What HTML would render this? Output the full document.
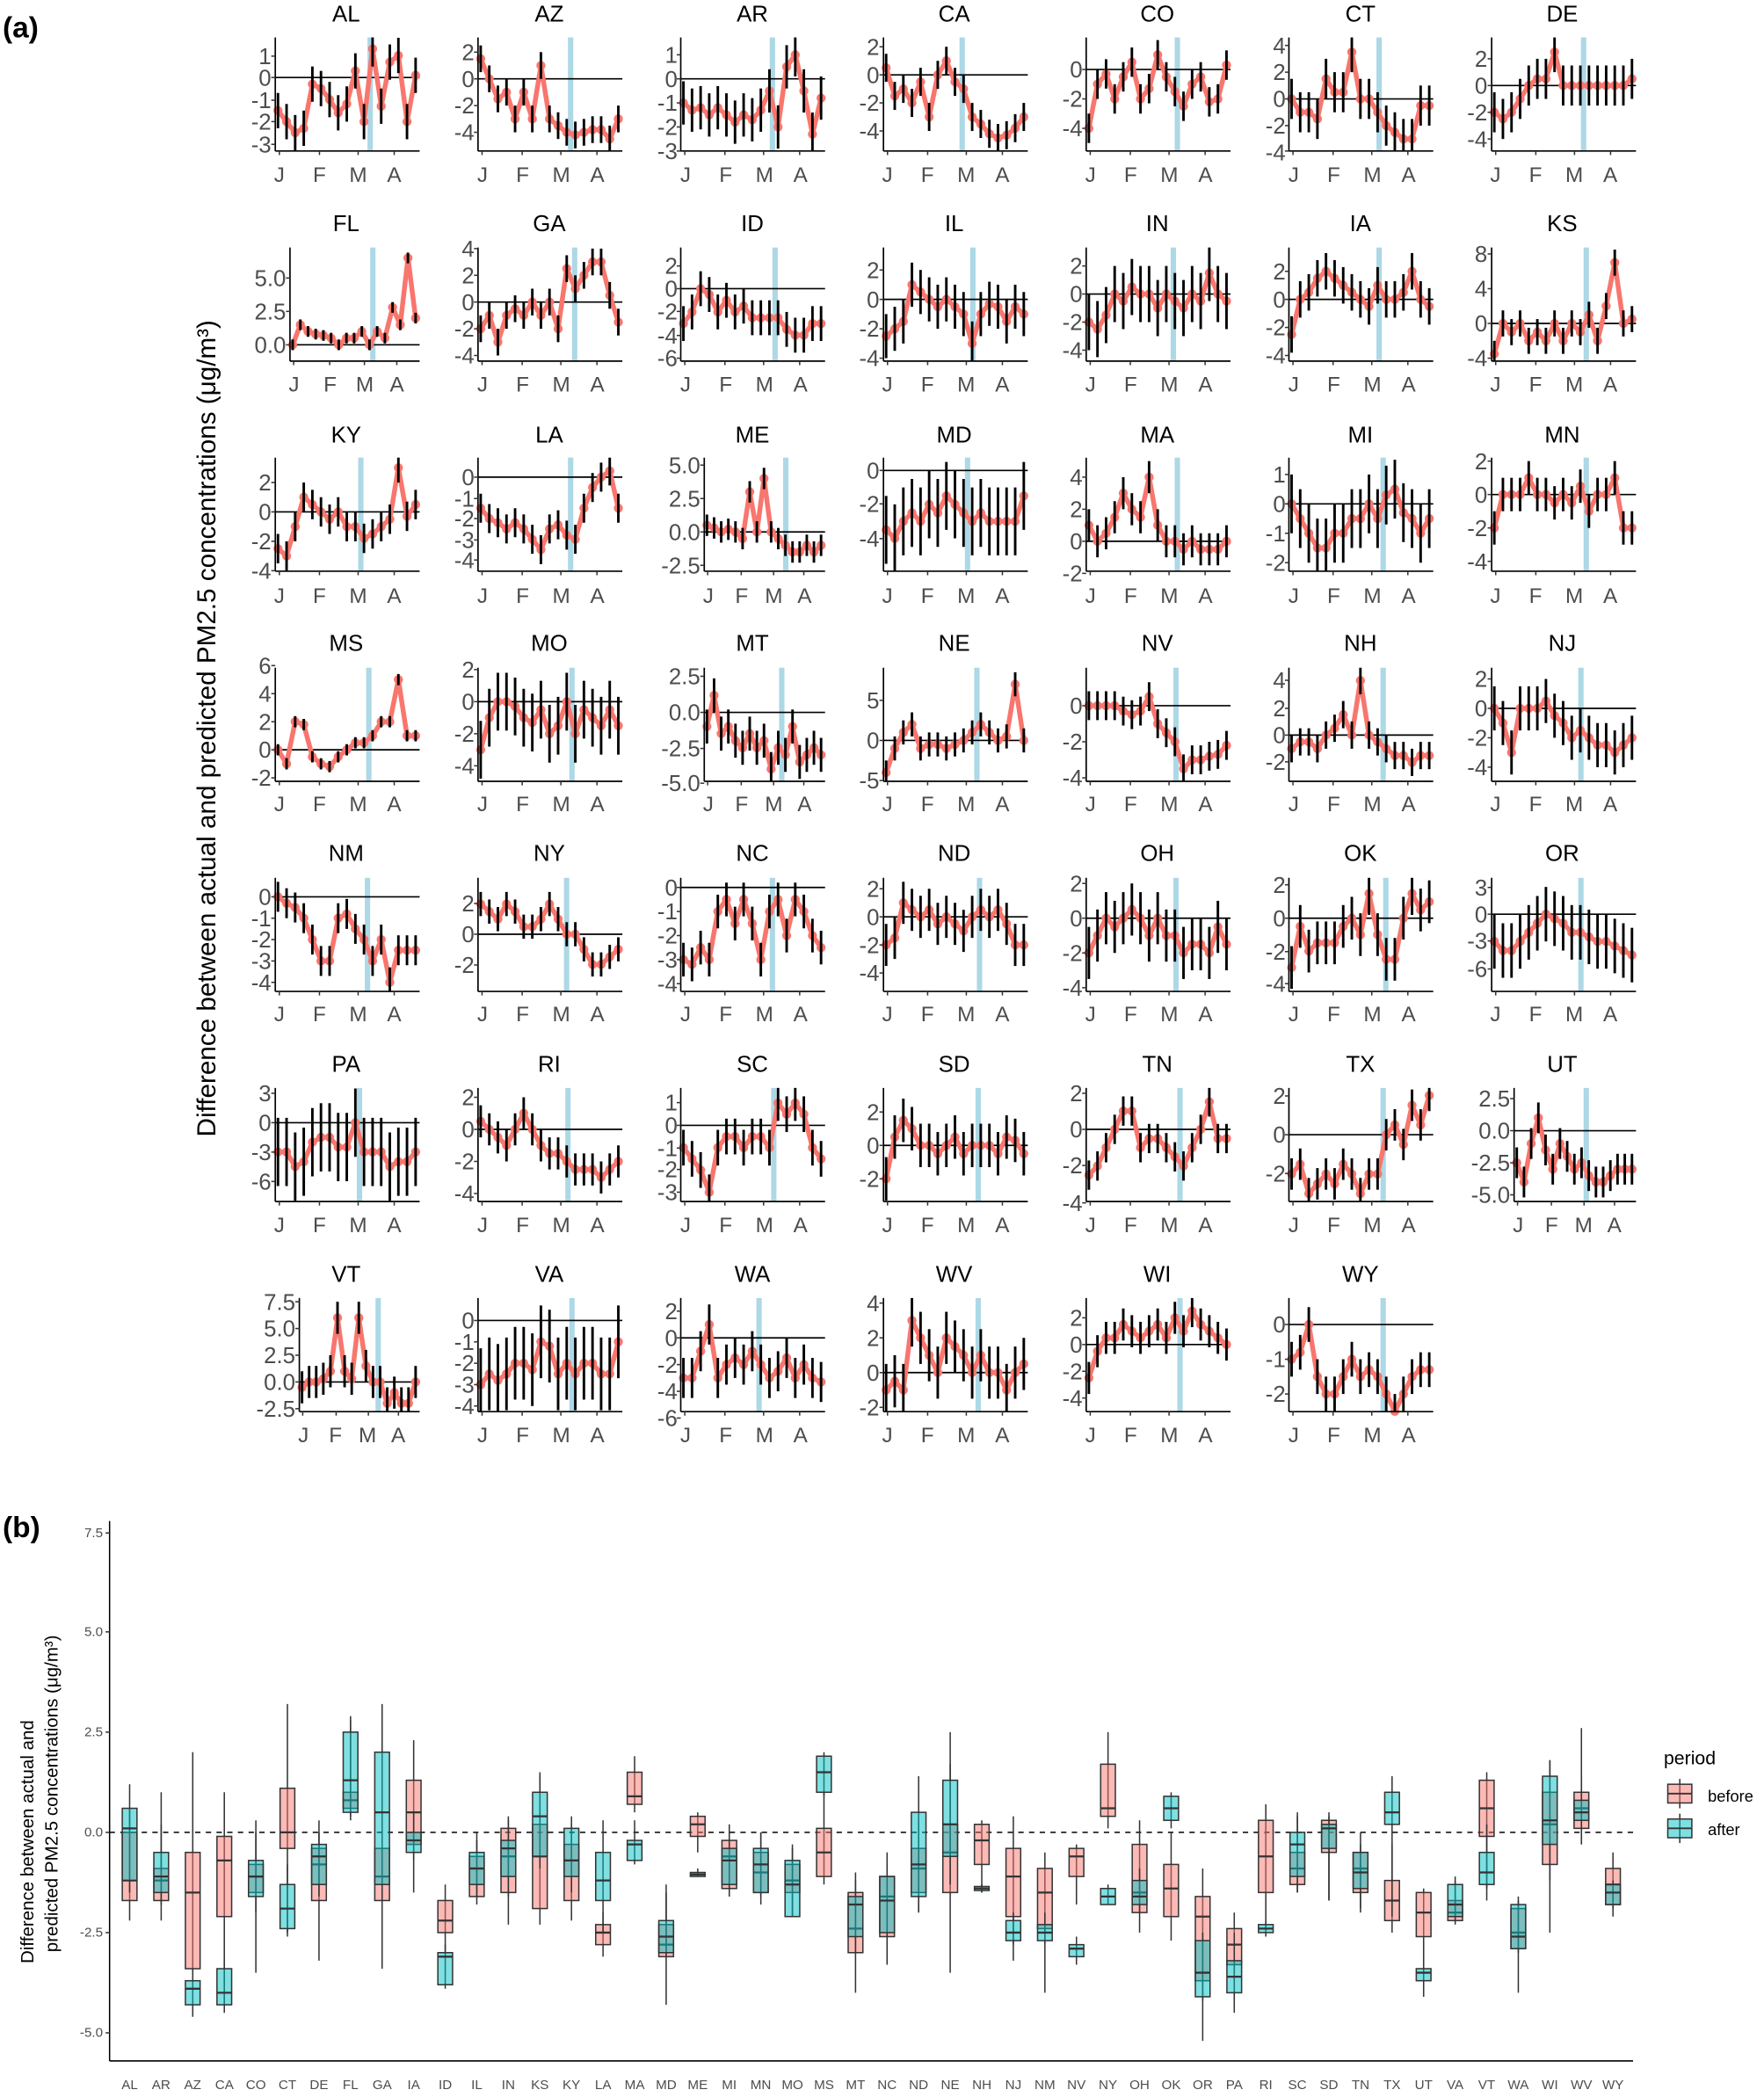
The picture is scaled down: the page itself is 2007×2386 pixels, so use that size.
<!DOCTYPE html>
<html><head><meta charset="utf-8"><style>
html,body{margin:0;padding:0;background:#fff}
svg{display:block}
text{font-family:"Liberation Sans",Arial,sans-serif}
.t{font-size:17px;fill:#000;text-anchor:middle}
.k{font-size:17px;fill:#4d4d4d;text-anchor:end}
.m{font-size:16px;fill:#4d4d4d;text-anchor:middle}
.bk{font-size:10px;fill:#4d4d4d;text-anchor:end}
.bx{font-size:10px;fill:#4d4d4d;text-anchor:middle}
</style></head><body>
<svg id="s" width="2007" height="2386" viewBox="0 0 1320 1569" preserveAspectRatio="none" xmlns="http://www.w3.org/2000/svg">
<rect width="1320" height="1569" fill="#fff"/>
<g id="geo"></g>
<text x="2" y="28" style="font-size:22px;font-weight:bold">(a)</text>
<text x="2" y="1150" style="font-size:22px;font-weight:bold">(b)</text>
<text transform="translate(161,545) rotate(-90)" style="font-size:19.5px;text-anchor:middle">Difference between actual and predicted PM2.5 concentrations (μg/m³)</text>
<text transform="translate(25,1378) rotate(-90)" style="font-size:13.5px;text-anchor:middle">Difference between actual and</text>
<text transform="translate(43,1342) rotate(-90)" style="font-size:13.5px;text-anchor:middle">predicted PM2.5 concentrations (μg/m³)</text>

<!-- Row 0 -->
<g transform="translate(259,0)"><text class="t" y="16">AL</text><text class="k" x="-56" y="48">1</text><text class="k" x="-56" y="64">0</text><text class="k" x="-56" y="81">-1</text><text class="k" x="-56" y="97">-2</text><text class="k" x="-56" y="114">-3</text><text class="m" y="136"><tspan x="-50">J</tspan><tspan x="-20">F</tspan><tspan x="9">M</tspan><tspan x="36">A</tspan></text></g>
<g transform="translate(411,0)"><text class="t" y="16">AZ</text><text class="k" x="-56" y="45">2</text><text class="k" x="-56" y="65">0</text><text class="k" x="-56" y="85">-2</text><text class="k" x="-56" y="105">-4</text><text class="m" y="136"><tspan x="-50">J</tspan><tspan x="-20">F</tspan><tspan x="9">M</tspan><tspan x="36">A</tspan></text></g>
<g transform="translate(563,0)"><text class="t" y="16">AR</text><text class="k" x="-56" y="47">1</text><text class="k" x="-56" y="65">0</text><text class="k" x="-56" y="83">-1</text><text class="k" x="-56" y="101">-2</text><text class="k" x="-56" y="119">-3</text><text class="m" y="136"><tspan x="-50">J</tspan><tspan x="-20">F</tspan><tspan x="9">M</tspan><tspan x="36">A</tspan></text></g>
<g transform="translate(714,0)"><text class="t" y="16">CA</text><text class="k" x="-56" y="41">2</text><text class="k" x="-56" y="62">0</text><text class="k" x="-56" y="83">-2</text><text class="k" x="-56" y="104">-4</text><text class="m" y="136"><tspan x="-50">J</tspan><tspan x="-20">F</tspan><tspan x="9">M</tspan><tspan x="36">A</tspan></text></g>
<g transform="translate(866,0)"><text class="t" y="16">CO</text><text class="k" x="-56" y="58">0</text><text class="k" x="-56" y="80">-2</text><text class="k" x="-56" y="102">-4</text><text class="m" y="136"><tspan x="-50">J</tspan><tspan x="-20">F</tspan><tspan x="9">M</tspan><tspan x="36">A</tspan></text></g>
<g transform="translate(1018,0)"><text class="t" y="16">CT</text><text class="k" x="-56" y="40">4</text><text class="k" x="-56" y="60">2</text><text class="k" x="-56" y="80">0</text><text class="k" x="-56" y="100">-2</text><text class="k" x="-56" y="120">-4</text><text class="m" y="136"><tspan x="-50">J</tspan><tspan x="-20">F</tspan><tspan x="9">M</tspan><tspan x="36">A</tspan></text></g>
<g transform="translate(1169,0)"><text class="t" y="16">DE</text><text class="k" x="-56" y="50">2</text><text class="k" x="-56" y="70">0</text><text class="k" x="-56" y="90">-2</text><text class="k" x="-56" y="110">-4</text><text class="m" y="136"><tspan x="-50">J</tspan><tspan x="-20">F</tspan><tspan x="9">M</tspan><tspan x="36">A</tspan></text></g>
<!-- Row 1 -->
<g transform="translate(259,0)"><text class="t" y="173">FL</text><text class="k" x="-45" y="214">5.0</text><text class="k" x="-45" y="239">2.5</text><text class="k" x="-45" y="264">0.0</text><text class="m" y="293"><tspan x="-39">J</tspan><tspan x="-12">F</tspan><tspan x="14">M</tspan><tspan x="38">A</tspan></text></g>
<g transform="translate(411,0)"><text class="t" y="173">GA</text><text class="k" x="-56" y="192">4</text><text class="k" x="-56" y="212">2</text><text class="k" x="-56" y="232">0</text><text class="k" x="-56" y="252">-2</text><text class="k" x="-56" y="272">-4</text><text class="m" y="293"><tspan x="-50">J</tspan><tspan x="-20">F</tspan><tspan x="9">M</tspan><tspan x="36">A</tspan></text></g>
<g transform="translate(563,0)"><text class="t" y="173">ID</text><text class="k" x="-56" y="205">2</text><text class="k" x="-56" y="222">0</text><text class="k" x="-56" y="239">-2</text><text class="k" x="-56" y="257">-4</text><text class="k" x="-56" y="274">-6</text><text class="m" y="293"><tspan x="-50">J</tspan><tspan x="-20">F</tspan><tspan x="9">M</tspan><tspan x="36">A</tspan></text></g>
<g transform="translate(714,0)"><text class="t" y="173">IL</text><text class="k" x="-56" y="208">2</text><text class="k" x="-56" y="230">0</text><text class="k" x="-56" y="252">-2</text><text class="k" x="-56" y="274">-4</text><text class="m" y="293"><tspan x="-50">J</tspan><tspan x="-20">F</tspan><tspan x="9">M</tspan><tspan x="36">A</tspan></text></g>
<g transform="translate(866,0)"><text class="t" y="173">IN</text><text class="k" x="-56" y="205">2</text><text class="k" x="-56" y="226">0</text><text class="k" x="-56" y="247">-2</text><text class="k" x="-56" y="268">-4</text><text class="m" y="293"><tspan x="-50">J</tspan><tspan x="-20">F</tspan><tspan x="9">M</tspan><tspan x="36">A</tspan></text></g>
<g transform="translate(1018,0)"><text class="t" y="173">IA</text><text class="k" x="-56" y="209">2</text><text class="k" x="-56" y="230">0</text><text class="k" x="-56" y="251">-2</text><text class="k" x="-56" y="272">-4</text><text class="m" y="293"><tspan x="-50">J</tspan><tspan x="-20">F</tspan><tspan x="9">M</tspan><tspan x="36">A</tspan></text></g>
<g transform="translate(1169,0)"><text class="t" y="173">KS</text><text class="k" x="-56" y="196">8</text><text class="k" x="-56" y="222">4</text><text class="k" x="-56" y="248">0</text><text class="k" x="-56" y="274">-4</text><text class="m" y="293"><tspan x="-50">J</tspan><tspan x="-20">F</tspan><tspan x="9">M</tspan><tspan x="36">A</tspan></text></g>
<!-- Row 2 -->
<g transform="translate(259,0)"><text class="t" y="331">KY</text><text class="k" x="-56" y="367">2</text><text class="k" x="-56" y="389">0</text><text class="k" x="-56" y="411">-2</text><text class="k" x="-56" y="433">-4</text><text class="m" y="451"><tspan x="-50">J</tspan><tspan x="-20">F</tspan><tspan x="9">M</tspan><tspan x="36">A</tspan></text></g>
<g transform="translate(411,0)"><text class="t" y="331">LA</text><text class="k" x="-56" y="363">0</text><text class="k" x="-56" y="379">-1</text><text class="k" x="-56" y="394">-2</text><text class="k" x="-56" y="410">-3</text><text class="k" x="-56" y="425">-4</text><text class="m" y="451"><tspan x="-50">J</tspan><tspan x="-20">F</tspan><tspan x="9">M</tspan><tspan x="36">A</tspan></text></g>
<g transform="translate(563,0)"><text class="t" y="331">ME</text><text class="k" x="-39" y="354">5.0</text><text class="k" x="-39" y="379">2.5</text><text class="k" x="-39" y="404">0.0</text><text class="k" x="-39" y="429">-2.5</text><text class="m" y="451"><tspan x="-33">J</tspan><tspan x="-8">F</tspan><tspan x="16">M</tspan><tspan x="39">A</tspan></text></g>
<g transform="translate(714,0)"><text class="t" y="331">MD</text><text class="k" x="-56" y="358">0</text><text class="k" x="-56" y="383">-2</text><text class="k" x="-56" y="409">-4</text><text class="m" y="451"><tspan x="-50">J</tspan><tspan x="-20">F</tspan><tspan x="9">M</tspan><tspan x="36">A</tspan></text></g>
<g transform="translate(866,0)"><text class="t" y="331">MA</text><text class="k" x="-56" y="363">4</text><text class="k" x="-56" y="387">2</text><text class="k" x="-56" y="411">0</text><text class="k" x="-56" y="435">-2</text><text class="m" y="451"><tspan x="-50">J</tspan><tspan x="-20">F</tspan><tspan x="9">M</tspan><tspan x="36">A</tspan></text></g>
<g transform="translate(1018,0)"><text class="t" y="331">MI</text><text class="k" x="-56" y="361">1</text><text class="k" x="-56" y="383">0</text><text class="k" x="-56" y="405">-1</text><text class="k" x="-56" y="427">-2</text><text class="m" y="451"><tspan x="-50">J</tspan><tspan x="-20">F</tspan><tspan x="9">M</tspan><tspan x="36">A</tspan></text></g>
<g transform="translate(1169,0)"><text class="t" y="331">MN</text><text class="k" x="-56" y="351">2</text><text class="k" x="-56" y="376">0</text><text class="k" x="-56" y="401">-2</text><text class="k" x="-56" y="426">-4</text><text class="m" y="451"><tspan x="-50">J</tspan><tspan x="-20">F</tspan><tspan x="9">M</tspan><tspan x="36">A</tspan></text></g>
<!-- Row 3 -->
<g transform="translate(259,0)"><text class="t" y="487">MS</text><text class="k" x="-56" y="504">6</text><text class="k" x="-56" y="525">4</text><text class="k" x="-56" y="546">2</text><text class="k" x="-56" y="567">0</text><text class="k" x="-56" y="588">-2</text><text class="m" y="607"><tspan x="-50">J</tspan><tspan x="-20">F</tspan><tspan x="9">M</tspan><tspan x="36">A</tspan></text></g>
<g transform="translate(411,0)"><text class="t" y="487">MO</text><text class="k" x="-56" y="507">2</text><text class="k" x="-56" y="531">0</text><text class="k" x="-56" y="555">-2</text><text class="k" x="-56" y="579">-4</text><text class="m" y="607"><tspan x="-50">J</tspan><tspan x="-20">F</tspan><tspan x="9">M</tspan><tspan x="36">A</tspan></text></g>
<g transform="translate(563,0)"><text class="t" y="487">MT</text><text class="k" x="-39" y="512">2.5</text><text class="k" x="-39" y="539">0.0</text><text class="k" x="-39" y="566">-2.5</text><text class="k" x="-39" y="592">-5.0</text><text class="m" y="607"><tspan x="-33">J</tspan><tspan x="-8">F</tspan><tspan x="16">M</tspan><tspan x="39">A</tspan></text></g>
<g transform="translate(714,0)"><text class="t" y="487">NE</text><text class="k" x="-56" y="530">5</text><text class="k" x="-56" y="560">0</text><text class="k" x="-56" y="590">-5</text><text class="m" y="607"><tspan x="-50">J</tspan><tspan x="-20">F</tspan><tspan x="9">M</tspan><tspan x="36">A</tspan></text></g>
<g transform="translate(866,0)"><text class="t" y="487">NV</text><text class="k" x="-56" y="534">0</text><text class="k" x="-56" y="561">-2</text><text class="k" x="-56" y="588">-4</text><text class="m" y="607"><tspan x="-50">J</tspan><tspan x="-20">F</tspan><tspan x="9">M</tspan><tspan x="36">A</tspan></text></g>
<g transform="translate(1018,0)"><text class="t" y="487">NH</text><text class="k" x="-56" y="515">4</text><text class="k" x="-56" y="536">2</text><text class="k" x="-56" y="556">0</text><text class="k" x="-56" y="576">-2</text><text class="m" y="607"><tspan x="-50">J</tspan><tspan x="-20">F</tspan><tspan x="9">M</tspan><tspan x="36">A</tspan></text></g>
<g transform="translate(1169,0)"><text class="t" y="487">NJ</text><text class="k" x="-56" y="514">2</text><text class="k" x="-56" y="536">0</text><text class="k" x="-56" y="558">-2</text><text class="k" x="-56" y="580">-4</text><text class="m" y="607"><tspan x="-50">J</tspan><tspan x="-20">F</tspan><tspan x="9">M</tspan><tspan x="36">A</tspan></text></g>
<!-- Row 4 -->
<g transform="translate(259,0)"><text class="t" y="644">NM</text><text class="k" x="-56" y="677">0</text><text class="k" x="-56" y="693">-1</text><text class="k" x="-56" y="709">-2</text><text class="k" x="-56" y="725">-3</text><text class="k" x="-56" y="741">-4</text><text class="m" y="764"><tspan x="-50">J</tspan><tspan x="-20">F</tspan><tspan x="9">M</tspan><tspan x="36">A</tspan></text></g>
<g transform="translate(411,0)"><text class="t" y="644">NY</text><text class="k" x="-56" y="682">2</text><text class="k" x="-56" y="705">0</text><text class="k" x="-56" y="728">-2</text><text class="m" y="764"><tspan x="-50">J</tspan><tspan x="-20">F</tspan><tspan x="9">M</tspan><tspan x="36">A</tspan></text></g>
<g transform="translate(563,0)"><text class="t" y="644">NC</text><text class="k" x="-56" y="670">0</text><text class="k" x="-56" y="688">-1</text><text class="k" x="-56" y="706">-2</text><text class="k" x="-56" y="724">-3</text><text class="k" x="-56" y="742">-4</text><text class="m" y="764"><tspan x="-50">J</tspan><tspan x="-20">F</tspan><tspan x="9">M</tspan><tspan x="36">A</tspan></text></g>
<g transform="translate(714,0)"><text class="t" y="644">ND</text><text class="k" x="-56" y="671">2</text><text class="k" x="-56" y="692">0</text><text class="k" x="-56" y="713">-2</text><text class="k" x="-56" y="734">-4</text><text class="m" y="764"><tspan x="-50">J</tspan><tspan x="-20">F</tspan><tspan x="9">M</tspan><tspan x="36">A</tspan></text></g>
<g transform="translate(866,0)"><text class="t" y="644">OH</text><text class="k" x="-56" y="667">2</text><text class="k" x="-56" y="693">0</text><text class="k" x="-56" y="719">-2</text><text class="k" x="-56" y="745">-4</text><text class="m" y="764"><tspan x="-50">J</tspan><tspan x="-20">F</tspan><tspan x="9">M</tspan><tspan x="36">A</tspan></text></g>
<g transform="translate(1018,0)"><text class="t" y="644">OK</text><text class="k" x="-56" y="668">2</text><text class="k" x="-56" y="693">0</text><text class="k" x="-56" y="718">-2</text><text class="k" x="-56" y="742">-4</text><text class="m" y="764"><tspan x="-50">J</tspan><tspan x="-20">F</tspan><tspan x="9">M</tspan><tspan x="36">A</tspan></text></g>
<g transform="translate(1169,0)"><text class="t" y="644">OR</text><text class="k" x="-56" y="670">3</text><text class="k" x="-56" y="690">0</text><text class="k" x="-56" y="710">-3</text><text class="k" x="-56" y="731">-6</text><text class="m" y="764"><tspan x="-50">J</tspan><tspan x="-20">F</tspan><tspan x="9">M</tspan><tspan x="36">A</tspan></text></g>
<!-- Row 5 -->
<g transform="translate(259,0)"><text class="t" y="802">PA</text><text class="k" x="-56" y="824">3</text><text class="k" x="-56" y="846">0</text><text class="k" x="-56" y="868">-3</text><text class="k" x="-56" y="890">-6</text><text class="m" y="922"><tspan x="-50">J</tspan><tspan x="-20">F</tspan><tspan x="9">M</tspan><tspan x="36">A</tspan></text></g>
<g transform="translate(411,0)"><text class="t" y="802">RI</text><text class="k" x="-56" y="827">2</text><text class="k" x="-56" y="851">0</text><text class="k" x="-56" y="875">-2</text><text class="k" x="-56" y="899">-4</text><text class="m" y="922"><tspan x="-50">J</tspan><tspan x="-20">F</tspan><tspan x="9">M</tspan><tspan x="36">A</tspan></text></g>
<g transform="translate(563,0)"><text class="t" y="802">SC</text><text class="k" x="-56" y="831">1</text><text class="k" x="-56" y="848">0</text><text class="k" x="-56" y="865">-1</text><text class="k" x="-56" y="881">-2</text><text class="k" x="-56" y="898">-3</text><text class="m" y="922"><tspan x="-50">J</tspan><tspan x="-20">F</tspan><tspan x="9">M</tspan><tspan x="36">A</tspan></text></g>
<g transform="translate(714,0)"><text class="t" y="802">SD</text><text class="k" x="-56" y="838">2</text><text class="k" x="-56" y="863">0</text><text class="k" x="-56" y="888">-2</text><text class="m" y="922"><tspan x="-50">J</tspan><tspan x="-20">F</tspan><tspan x="9">M</tspan><tspan x="36">A</tspan></text></g>
<g transform="translate(866,0)"><text class="t" y="802">TN</text><text class="k" x="-56" y="824">2</text><text class="k" x="-56" y="851">0</text><text class="k" x="-56" y="878">-2</text><text class="k" x="-56" y="906">-4</text><text class="m" y="922"><tspan x="-50">J</tspan><tspan x="-20">F</tspan><tspan x="9">M</tspan><tspan x="36">A</tspan></text></g>
<g transform="translate(1018,0)"><text class="t" y="802">TX</text><text class="k" x="-56" y="826">2</text><text class="k" x="-56" y="855">0</text><text class="k" x="-56" y="884">-2</text><text class="m" y="922"><tspan x="-50">J</tspan><tspan x="-20">F</tspan><tspan x="9">M</tspan><tspan x="36">A</tspan></text></g>
<g transform="translate(1169,0)"><text class="t" y="802">UT</text><text class="k" x="-39" y="828">2.5</text><text class="k" x="-39" y="852">0.0</text><text class="k" x="-39" y="876">-2.5</text><text class="k" x="-39" y="900">-5.0</text><text class="m" y="922"><tspan x="-33">J</tspan><tspan x="-8">F</tspan><tspan x="16">M</tspan><tspan x="39">A</tspan></text></g>
<!-- Row 6 -->
<g transform="translate(259,0)"><text class="t" y="959">VT</text><text class="k" x="-38" y="980">7.5</text><text class="k" x="-38" y="1000">5.0</text><text class="k" x="-38" y="1020">2.5</text><text class="k" x="-38" y="1040">0.0</text><text class="k" x="-38" y="1060">-2.5</text><text class="m" y="1079"><tspan x="-32">J</tspan><tspan x="-8">F</tspan><tspan x="16">M</tspan><tspan x="39">A</tspan></text></g>
<g transform="translate(411,0)"><text class="t" y="959">VA</text><text class="k" x="-56" y="994">0</text><text class="k" x="-56" y="1010">-1</text><text class="k" x="-56" y="1026">-2</text><text class="k" x="-56" y="1042">-3</text><text class="k" x="-56" y="1058">-4</text><text class="m" y="1079"><tspan x="-50">J</tspan><tspan x="-20">F</tspan><tspan x="9">M</tspan><tspan x="36">A</tspan></text></g>
<g transform="translate(563,0)"><text class="t" y="959">WA</text><text class="k" x="-56" y="987">2</text><text class="k" x="-56" y="1007">0</text><text class="k" x="-56" y="1027">-2</text><text class="k" x="-56" y="1047">-4</text><text class="k" x="-56" y="1067">-6</text><text class="m" y="1079"><tspan x="-50">J</tspan><tspan x="-20">F</tspan><tspan x="9">M</tspan><tspan x="36">A</tspan></text></g>
<g transform="translate(714,0)"><text class="t" y="959">WV</text><text class="k" x="-56" y="981">4</text><text class="k" x="-56" y="1007">2</text><text class="k" x="-56" y="1033">0</text><text class="k" x="-56" y="1059">-2</text><text class="m" y="1079"><tspan x="-50">J</tspan><tspan x="-20">F</tspan><tspan x="9">M</tspan><tspan x="36">A</tspan></text></g>
<g transform="translate(866,0)"><text class="t" y="959">WI</text><text class="k" x="-56" y="992">2</text><text class="k" x="-56" y="1012">0</text><text class="k" x="-56" y="1032">-2</text><text class="k" x="-56" y="1052">-4</text><text class="m" y="1079"><tspan x="-50">J</tspan><tspan x="-20">F</tspan><tspan x="9">M</tspan><tspan x="36">A</tspan></text></g>
<g transform="translate(1018,0)"><text class="t" y="959">WY</text><text class="k" x="-56" y="997">0</text><text class="k" x="-56" y="1023">-1</text><text class="k" x="-56" y="1049">-2</text><text class="m" y="1079"><tspan x="-50">J</tspan><tspan x="-20">F</tspan><tspan x="9">M</tspan><tspan x="36">A</tspan></text></g>

<!-- Panel b text -->
<text class="bk" x="77" y="1150">7.5</text><text class="bk" x="77" y="1224">5.0</text><text class="bk" x="77" y="1299">2.5</text><text class="bk" x="77" y="1374">0.0</text><text class="bk" x="77" y="1449">-2.5</text><text class="bk" x="77" y="1524">-5.0</text>
<g><text class="bx" y="1563" x="97.0">AL</text><text class="bx" y="1563" x="120.6">AR</text><text class="bx" y="1563" x="144.2">AZ</text><text class="bx" y="1563" x="167.9">CA</text><text class="bx" y="1563" x="191.5">CO</text><text class="bx" y="1563" x="215.1">CT</text><text class="bx" y="1563" x="238.7">DE</text><text class="bx" y="1563" x="262.3">FL</text><text class="bx" y="1563" x="286.0">GA</text><text class="bx" y="1563" x="309.6">IA</text><text class="bx" y="1563" x="333.2">ID</text><text class="bx" y="1563" x="356.8">IL</text><text class="bx" y="1563" x="380.4">IN</text><text class="bx" y="1563" x="404.0">KS</text><text class="bx" y="1563" x="427.6">KY</text><text class="bx" y="1563" x="451.3">LA</text><text class="bx" y="1563" x="474.9">MA</text><text class="bx" y="1563" x="498.5">MD</text><text class="bx" y="1563" x="522.1">ME</text><text class="bx" y="1563" x="545.7">MI</text><text class="bx" y="1563" x="569.3">MN</text><text class="bx" y="1563" x="593.0">MO</text><text class="bx" y="1563" x="616.6">MS</text><text class="bx" y="1563" x="640.2">MT</text><text class="bx" y="1563" x="663.8">NC</text><text class="bx" y="1563" x="687.4">ND</text><text class="bx" y="1563" x="711.0">NE</text><text class="bx" y="1563" x="734.7">NH</text><text class="bx" y="1563" x="758.3">NJ</text><text class="bx" y="1563" x="781.9">NM</text><text class="bx" y="1563" x="805.5">NV</text><text class="bx" y="1563" x="829.1">NY</text><text class="bx" y="1563" x="852.7">OH</text><text class="bx" y="1563" x="876.4">OK</text><text class="bx" y="1563" x="900.0">OR</text><text class="bx" y="1563" x="923.6">PA</text><text class="bx" y="1563" x="947.2">RI</text><text class="bx" y="1563" x="970.8">SC</text><text class="bx" y="1563" x="994.4">SD</text><text class="bx" y="1563" x="1018.1">TN</text><text class="bx" y="1563" x="1041.7">TX</text><text class="bx" y="1563" x="1065.3">UT</text><text class="bx" y="1563" x="1088.9">VA</text><text class="bx" y="1563" x="1112.5">VT</text><text class="bx" y="1563" x="1136.1">WA</text><text class="bx" y="1563" x="1159.8">WI</text><text class="bx" y="1563" x="1183.4">WV</text><text class="bx" y="1563" x="1207.0">WY</text></g>
<text x="1245" y="1320" style="font-size:14px">period</text>
<text x="1278" y="1348" style="font-size:12px">before</text>
<text x="1278" y="1373" style="font-size:12px">after</text>
</svg>
<script>
(function(){
var NS="http://www.w3.org/2000/svg",G=document.getElementById("geo");
function el(n,a){var e=document.createElementNS(NS,n);for(var k in a)e.setAttribute(k,a[k]);G.appendChild(e);return e;}
var P=[
[0,0,0,58,16.5,277,0.8,[42,58,75,91,108],[-1.5,-2,-2.5,-2.3,-0.3,-0.5,-1,-1.6,-1.2,0.3,-2,1.3,-1.3,0.7,1,-2,0.1]],
[1,0,0,59,10,427,1,[39,59,79,99],[1.5,0,-1.5,-1,-3,-1,-3,1,-3,-3.5,-4,-4.2,-4,-3.8,-3.8,-4.5,-3]],
[2,0,0,59,18,578,0.9,[41,59,77,95,113],[-1,-1.3,-1.2,-1.5,-1.2,-1.5,-1.8,-1.5,-1.7,-1.3,-0.5,-2,0.5,1,-0.5,-2.3,-0.8]],
[3,0,0,56,10.5,720,1,[35,56,77,98],[0.5,-1.5,-1,-2,-0.5,-3,0,1,-0.5,-1,-3,-3.5,-4.2,-4.5,-4.3,-3.8,-3]],
[4,0,0,52,11,881,1,[52,74,96],[-4,-1,-0.3,-2,-0.5,0.5,-2,-1.3,1,-0.5,-1.5,-2.5,-1,-0.5,-2.2,-2,0.3]],
[5,0,0,74,10,1032,1.5,[34,54,74,94,113],[0,-1,-1,-1.5,1.5,0.5,0.5,3.5,0,0,-1,-2,-2.5,-3,-3,-0.5,-0.5]],
[6,0,0,64,10,1185,1.5,[44,64,84,104],[-2,-2.5,-2,-1,0,0.5,0.5,2.5,0,0,0,0,0,0,0,0,0.5]],
[0,1,217,258,10,279,0.4,[208,233,258],[0,1.5,1,0.8,0.7,0.5,0,0.5,0.5,1,0,1,0.5,2.8,1.5,6.5,2]],
[1,1,0,226,10,430,1,[186,206,226,246,266],[-2,-1,-3,-1,-0.5,-1,0,-1,0,-2,2.5,1,2,3,3,0.5,-1.5]],
[2,1,0,216,8.7,580,1.5,[199,216,233,251,268],[-3,-2,0,-0.5,-2,-1,-2,-1.5,-2.5,-2.5,-2.5,-2.5,-3.5,-4,-4,-3,-3]],
[3,1,0,224,11,728,1.5,[202,224,246,268],[-2.5,-2,-1.5,1,0.5,0,-0.5,0,-0.5,-1,-3,-1,-0.3,-0.5,-1.5,-0.5,-1]],
[4,1,0,220,10.5,878,2,[199,220,241,262],[-2,-2.5,-1.5,0,-0.5,0.5,0,0,-1,0,-0.5,-1,0,-0.5,1.5,0,-0.5]],
[5,1,0,224,10.5,1032,1.3,[203,224,245,266],[-2.5,0,0.5,1.5,2,1.5,1,0.5,0,-0.5,1,0,0,0.5,2,0,-0.5]],
[6,1,0,242,6.5,1187,1.5,[190,216,242,268],[-3.5,0,-1,0,-2,-1,-2,0,-2,0,-1,1,-2,2,7,0,0.5]],
[0,2,0,383,11,270,1,[361,383,405,427],[-2.5,-3,-1,1,0.5,0,-0.5,0,-1,-1,-1.8,-1.5,-1,-0.5,3,-0.3,0.5]],
[1,2,0,357,15.5,427,0.7,[357,373,388,404,419],[-1.5,-2,-2.2,-2.5,-2.2,-2.5,-3,-3.5,-2.5,-2.3,-2.8,-3,-1.5,-0.5,0,0.3,-1.5]],
[2,2,527,398,10,588,0.8,[348,373,398,423],[0.5,0.3,0,0.2,0,-0.5,3,0,4,0,-0.5,-1,-1.5,-1.5,-1,-1.5,-1]],
[3,2,0,352,12.7,724,2,[352,377,403],[-3.5,-4,-3,-2.5,-3,-2,-2.5,-1.5,-2,-2.5,-3,-2.5,-3,-3,-3,-3,-1.5]],
[4,2,0,405,12,881,1,[357,381,405,429],[1,0,0.5,1.5,3,2,1.5,4,1,0,0,-0.5,0,-0.5,-0.5,-0.5,0]],
[5,2,0,377,22,1035,1,[355,377,399,421],[0,-0.5,-1,-1.5,-1.5,-1,-1,-0.5,-0.5,0,-0.5,0.3,0.5,-0.3,-0.5,-1,-0.5]],
[6,2,0,370,12.5,1187,1,[345,370,395,420],[-2,0,0,0,1,0,0,-0.5,0,-0.5,0.5,-1,0,0,1,-2,-2]],
[0,3,0,561,10.5,276,0.4,[498,519,540,561,582],[0,-1,2,1.8,-0.5,-1,-1.2,-0.5,0,0.5,0.5,1,2,2,5,1,1]],
[1,3,0,525,12,428,1.8,[501,525,549,573],[-3,-1,0,0,-0.3,-1,-1.3,-0.5,-2,-1.5,0,-2,-0.5,-1,-1.5,-0.5,-1.5]],
[2,3,527,533,10.6,585,1.2,[506,533,560,586],[-1,1.2,-1.5,-1,-2,-2.5,-1.5,-2.5,-2,-4,-2.5,-3,-1,-3.5,-3,-2.5,-3]],
[3,3,0,554,6,731,1.5,[524,554,584],[-4,-1,1,2,-1,-0.5,-0.5,-1,-0.5,0,1,2,1,0,0.5,7,0]],
[4,3,0,528,13.5,880,0.8,[528,555,582],[0,0,0,0,-0.3,-0.5,-0.3,0.5,-1,-1.5,-2,-3.5,-3,-3,-2.8,-2.7,-2.2]],
[5,3,0,550,10.2,1035,1,[509,530,550,570],[-1,-0.5,-0.5,-1,0,0.5,1.5,0,4,0,-0.5,-1,-1.5,-1.5,-2,-1.5,-1.5]],
[6,3,0,530,11,1183,1.5,[508,530,552,574],[0,-1,-3,0,0,0,0.5,-0.5,-1,-2,-1.5,-2,-2.5,-2.5,-3,-2.5,-2]],
[0,4,0,671,16,275,0.7,[671,687,703,719,735],[0,-0.3,-0.5,-1,-2,-3,-3,-1,-0.8,-1.5,-2,-3,-2,-4,-2.5,-2.5,-2.5]],
[1,4,0,699,11.3,424,0.8,[676,699,722],[2,1.5,1,2,1.5,0.5,0.5,1,2,1,0,0,-1,-2,-2,-1.5,-1]],
[2,4,0,664,18,578,0.7,[664,682,700,718,736],[-3,-3.2,-2.5,-3,-1,-0.5,-1.5,-0.5,-1.5,-3,-1,-0.5,-2,-0.5,-1,-2,-2.5]],
[3,4,0,686,10.5,733,1.5,[665,686,707,728],[-2,-1.5,1,0.5,0,0.5,-0.5,0,-0.5,-1,0,0.5,0,0.5,-0.5,-2,-2]],
[4,4,0,687,13,880,1.5,[661,687,713,739],[-2,-1,0,-0.5,0,0.5,0,-1,0,-1,-1,-2,-1.5,-1.5,-2,-0.5,-1.5]],
[5,4,0,687,12.3,1037,1.3,[662,687,712,736],[-3,-0.5,-2,-1.5,-1.5,-1.5,-0.5,0,-1,1.5,-1,-2.5,-2.5,0,1.5,0.5,1]],
[6,4,0,684,6.8,1183,3,[664,684,704,725],[-3,-4,-4,-3,-2,-1,0,-0.5,-1,-2,-2,-2.5,-3,-3,-3.5,-4,-4.5]],
[0,5,0,840,7.3,269,3.5,[818,840,862,884],[-3,-3,-4.5,-4,-2,-1.5,-1.5,-2.5,-2.5,0,-3,-3,-3,-4.5,-4,-4,-3]],
[1,5,0,845,12,425,1,[821,845,869,893],[0.5,0,-0.5,-1,0,1,0,-1,-1.5,-1.5,-2,-2.5,-2.5,-2.5,-3,-2.5,-2]],
[2,5,0,842,16.7,579,0.8,[825,842,859,875,892],[-1,-1.5,-2,-3,-1,-0.5,-0.5,-1,-0.5,-0.5,-1,1,0.5,1,0.5,-1,-1.5]],
[3,5,0,857,12.5,732,1.3,[832,857,882],[-2,0.5,1.5,1,0,0,-0.5,0,0.5,-0.5,0,0,0,-0.5,0.5,0.3,-0.5]],
[4,5,0,845,13.7,883,0.8,[818,845,872,900],[-2.5,-2,-1,0,1,1,-1,-0.5,-0.5,-1,-1.5,-2,-1,0,1.5,-0.5,-0.5]],
[5,5,0,849,14.7,1035,0.8,[820,849,878],[-2,-1.5,-3,-2.5,-2,-2.5,-1.5,-2,-3,-2,-2,0,0.5,-0.5,1.5,0.5,2]],
[6,5,1133,846,9.6,1187,1.2,[822,846,870,894],[-2.5,-4,-1,1,-1.5,-3,-1,-2,-3,-2.5,-3.5,-4,-4,-3.5,-3,-3,-3]],
[0,6,224,1034,8,283,1.5,[974,994,1014,1034,1054],[-0.5,0,0,0.3,1,6,1,0.3,6,1.5,0,0,-2,-1,-2,-2,0]],
[1,6,0,988,16,428,1.7,[988,1004,1020,1036,1052],[-3,-2.5,-2.8,-2.5,-2,-2,-2.3,-1,-1.2,-2.5,-2,-2.5,-2,-2,-2.5,-2.5,-1]],
[2,6,0,1001,10,568,1.5,[981,1001,1021,1041,1061],[-3,-3,-1,1,-3,-2,-1.5,-2,-1,-2,-3,-2.5,-1.5,-3,-2,-3,-3.3]],
[3,6,0,1027,13,732,1.5,[975,1001,1027,1053],[-1,-0.5,-1,3,2,1,0,2,1.5,1,0,1,0,0,-1,0,0.5]],
[4,6,0,1006,10,883,1.2,[986,1006,1026,1046],[-2.5,-0.5,0.5,0.5,1.5,1,0.5,1,1.5,0.5,2,1,2.5,1.5,1,0.5,0]],
[5,6,0,991,26,1035,0.5,[991,1017,1043],[-1,-0.8,0,-1.5,-2,-2,-1.5,-1,-1.5,-1.3,-1.5,-2,-2.5,-2,-1.5,-1.3,-1.3]]
];
P.forEach(function(p){
 var cx=259+151.7*p[0], ty=10+157.2*p[1];
 var xL=p[2]||cx-53, xR=cx+55, top=ty+18, bot=ty+103, W=xR-xL;
 var z=p[3],u=p[4];
 function Y(v){return z-v*u;}
 el("rect",{x:p[5]-2,y:top,width:4,height:bot-top,fill:"#add8e6"});
 el("line",{x1:xL,x2:xR,y1:Y(0),y2:Y(0),stroke:"#000","stroke-width":1.1});
 var pts=[],n=p[8].length;
 var x0=xL+2,x1=xR-3;
 for(var i=0;i<n;i++){pts.push([x0+i*(x1-x0)/(n-1),Y(p[8][i])]);}
 el("polyline",{points:pts.map(function(a){return a[0].toFixed(1)+","+a[1].toFixed(1)}).join(" "),fill:"none",stroke:"#F8766D","stroke-width":3.6,"stroke-linejoin":"round"});
 pts.forEach(function(a){el("circle",{cx:a[0],cy:a[1],r:3.4,fill:"#F8766D"});});
 pts.forEach(function(a){var e=p[6]*u;var y1=Math.max(top,a[1]-e),y2=Math.min(bot,a[1]+e);el("line",{x1:a[0],x2:a[0],y1:y1,y2:y2,stroke:"#000","stroke-width":1.9});});
 el("line",{x1:xL,x2:xL,y1:top,y2:bot,stroke:"#000","stroke-width":1.1});
 el("line",{x1:xL,x2:xR,y1:bot,y2:bot,stroke:"#000","stroke-width":1.1});
 [0.028,0.306,0.574,0.824].forEach(function(f){var x=xL+f*W;el("line",{x1:x,x2:x,y1:bot,y2:bot+3,stroke:"#333","stroke-width":1});});
 p[7].forEach(function(y){el("line",{x1:xL-3,x2:xL,y1:y,y2:y,stroke:"#333","stroke-width":1});});
});
el("line",{x1:82,x2:82,y1:1138,y2:1542,stroke:"#000","stroke-width":1});
el("line",{x1:82,x2:1222,y1:1542,y2:1542,stroke:"#000","stroke-width":1});
[1147,1221,1296,1371,1446,1521].forEach(function(y){el("line",{x1:79,x2:82,y1:y,y2:y,stroke:"#333","stroke-width":1});});
el("line",{x1:82,x2:1222,y1:1371,y2:1371,stroke:"#000","stroke-width":1,"stroke-dasharray":"4,4"});
var B=[
[[-2.2,-1.7,-1.2,0,0.6],[-1.5,-1.2,0.1,0.6,1.2]],
[[-2.2,-1.7,-1.2,-0.9,1],[-1.8,-1.5,-1.1,-0.5,0.2]],
[[-3.5,-3.4,-1.5,-0.5,2],[-4.6,-4.3,-3.9,-3.7,-3.4]],
[[-4.3,-2.1,-0.7,-0.1,1],[-4.5,-4.3,-4,-3.4,-3.2]],
[[-3.5,-1.5,-1.1,-0.8,0.3],[-2,-1.6,-1.1,-0.7,0]],
[[-2.5,-0.4,0,1.1,3.2],[-2.6,-2.4,-1.9,-1.3,-0.8]],
[[-3.2,-1.7,-0.8,-0.4,0.3],[-1.6,-1.3,-0.6,-0.3,0]],
[[0.4,0.6,0.8,1,2.8],[0.3,0.5,1.3,2.5,2.9]],
[[-3.4,-1.7,-1.1,-0.4,3.2],[-1.7,-1.3,0.5,2,2.5]],
[[-1.5,-0.3,0.5,1.3,2.3],[-0.7,-0.5,-0.2,0,0.5]],
[[-3,-2.5,-2.2,-1.7,-1.3],[-3.9,-3.8,-3.1,-3,-2.8]],
[[-1.8,-1.6,-0.9,-0.6,0],[-1.6,-1.3,-0.9,-0.5,-0.2]],
[[-2.3,-1.5,-0.6,0.1,0.4],[-1.6,-1.1,-0.4,-0.2,0.3]],
[[-2.3,-1.9,-0.6,0.2,1.5],[-0.9,-0.6,0.4,1,1.4]],
[[-2.2,-1.7,-0.7,-0.3,0.2],[-1.5,-1.1,-0.7,0.1,0.4]],
[[-3.1,-2.8,-2.5,-2.3,-2],[-2.5,-1.7,-1.2,-0.5,0.3]],
[[0.5,0.7,0.9,1.5,1.9],[-0.8,-0.7,-0.3,-0.2,0.3]],
[[-4.3,-3.1,-2.8,-2.3,-1.5],[-3.1,-3,-2.6,-2.2,-1.3]],
[[-0.5,-0.1,0.2,0.4,0.5],[-1.1,-1.1,-1.05,-1,-0.9]],
[[-1.6,-1.4,-0.6,-0.2,0.2],[-1.6,-1.3,-0.7,-0.4,0]],
[[-1.6,-1.5,-1,-0.5,0],[-1.8,-1.5,-0.8,-0.4,0]],
[[-2.1,-1.5,-1.2,-0.8,-0.3],[-2.1,-2.1,-1.3,-0.7,-0.4]],
[[-1.3,-1.1,-0.5,0.1,1],[0.9,1,1.5,1.9,2]],
[[-4,-3,-2.4,-1.5,-1],[-3,-2.6,-1.8,-1.6,-1.2]],
[[-3.3,-2.6,-1.6,-1.1,-0.8],[-3.3,-2.5,-1.7,-1.1,-0.5]],
[[-2,-1.5,-0.9,-0.4,0.3],[-2,-1.6,-0.8,0.5,1.4]],
[[-3.5,-1.5,-0.5,0.2,2.5],[-1.3,-0.6,0.2,1.3,1.7]],
[[-1.5,-0.8,-0.2,0.2,0.3],[-1.5,-1.45,-1.4,-1.35,-1.3]],
[[-2.8,-2.1,-1.1,-0.4,0.4],[-3.2,-2.7,-2.5,-2.2,-2]],
[[-4,-2.4,-1.5,-0.9,-0.5],[-2.8,-2.7,-2.5,-2.3,-2]],
[[-1.8,-1.1,-0.6,-0.4,-0.3],[-3.3,-3.1,-2.9,-2.8,-2.6]],
[[0.1,0.4,0.6,1.7,2.5],[-1.8,-1.8,-1.6,-1.4,-1.3]],
[[-2.5,-2,-1.5,-0.3,0.3],[-2,-1.8,-1.6,-1.2,-0.9]],
[[-2.7,-2.1,-1.4,-0.8,0],[0.1,0.3,0.6,0.9,1]],
[[-5.2,-3.7,-2.1,-1.6,-0.9],[-4.2,-4.1,-3.5,-2.7,-2.5]],
[[-4.5,-3.3,-2.8,-2.4,-2],[-4.2,-4,-3.6,-3.2,-2.5]],
[[-2.4,-1.5,-0.6,0.3,0.7],[-2.6,-2.5,-2.4,-2.3,-2.2]],
[[-1.5,-1.3,-0.9,-0.5,0.5],[-1.5,-1.1,-0.3,0,0.4]],
[[-1.7,-0.5,0.1,0.3,0.5],[-1.7,-0.4,0.1,0.2,0.4]],
[[-2,-1.5,-0.9,-0.5,0],[-1.9,-1.4,-1,-0.5,-0.3]],
[[-2.5,-2.2,-1.7,-1.2,-0.3],[-2.1,0.2,0.5,1,1.4]],
[[-3.7,-2.6,-2,-1.5,-1.4],[-4.1,-3.7,-3.5,-3.4,-3.2]],
[[-2.3,-2.2,-2,-1.7,-1.2],[-2.2,-2.1,-1.8,-1.3,-1.1]],
[[-1.7,-0.1,0.6,1.3,1.5],[-1.4,-1.3,-1,-0.5,0.2]],
[[-4,-2.9,-2.5,-1.9,-1.7],[-3,-2.9,-2.6,-1.8,-1.6]],
[[-2.5,-0.8,0.2,1,1.8],[-1.2,-0.3,0.3,1.4,1.8]],
[[-0.3,0.1,0.6,1,2.6],[-0.3,0.3,0.5,0.8,1.4]],
[[-2.1,-1.8,-1.3,-0.9,-0.5],[-1.9,-1.8,-1.5,-1.3,-1.2]]
];
function Yb(v){return 1371-30*v;}
function box(x,d,col,w){
 el("line",{x1:x,x2:x,y1:Yb(d[4]),y2:Yb(d[0]),stroke:"#333","stroke-width":1});
 el("rect",{x:x-w/2,y:Yb(d[3]),width:w,height:Math.max(1,Yb(d[1])-Yb(d[3])),fill:col,"fill-opacity":0.5,stroke:"#333","stroke-width":1});
 el("line",{x1:x-w/2,x2:x+w/2,y1:Yb(d[2]),y2:Yb(d[2]),stroke:"#333","stroke-width":1.5});
}
B.forEach(function(b,i){var x=97+23.617*i;box(x,b[0],"#F8766D",11);box(x,b[1],"#00BFC4",11);});
function lg(y,col){
 el("line",{x1:1257,x2:1257,y1:y-11,y2:y+11,stroke:"#333","stroke-width":1});
 el("rect",{x:1248,y:y-7,width:18,height:14,fill:col,"fill-opacity":0.5,stroke:"#333","stroke-width":1});
 el("line",{x1:1248,x2:1266,y1:y,y2:y,stroke:"#333","stroke-width":1.2});
}
lg(1342,"#F8766D");lg(1368,"#00BFC4");
})();
</script>
</body></html>
